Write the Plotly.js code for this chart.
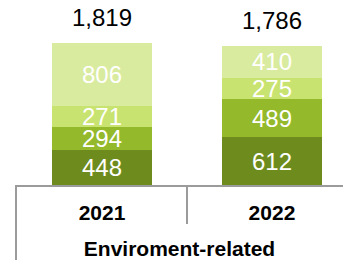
<!DOCTYPE html>
<html><head><meta charset="utf-8">
<script src="https://cdn.plot.ly/plotly-3.0.1.min.js"></script>
<style>html,body{margin:0;padding:0;background:#fff;overflow:hidden}#chart{width:343px;height:260px}</style>
</head><body><div id="chart"></div>
<script>
const categories = ["2021", "2022"];
const seriesNames = ["Segment 1", "Segment 2", "Segment 3", "Segment 4"];
const seg1 = [448, 612];
const seg2 = [294, 489];
const seg3 = [271, 275];
const seg4 = [806, 410];
const totals = [1819, 1786];
const groupLabel = "Enviroment-related";
const colors = ["#6e8c1e", "#94b92a", "#c8e36f", "#d9eb9f"];

const xs = categories.map((c, i) => i);
const series = [seg1, seg2, seg3, seg4];
const traces = series.map((vals, k) => ({
  type: "bar", x: xs, y: vals, name: seriesNames[k],
  marker: {color: colors[k], line: {width: 0}},
  width: 0.588,
  text: vals.map(v => v.toLocaleString("en-US")),
  textposition: "inside", insidetextanchor: "middle",
  textfont: {color: "#ffffff", size: 24, family: "Liberation Sans, Arial, sans-serif"},
  hoverinfo: "skip", cliponaxis: false
}));

const plotH = 260 - 29 - 75;
const annotations = totals.map((t, i) => ({
  x: i, y: t, xref: "x", yref: "y", text: t.toLocaleString("en-US"),
  showarrow: false, yanchor: "bottom", yshift: 10,
  font: {size: 24, color: "#000", family: "Liberation Sans, Arial, sans-serif"}
}));

const lineStyle = {color: "#9b9b9b", width: 2};
const shapes = [
  {type: "line", xref: "paper", yref: "paper", x0: 0, x1: 0, y0: 0, y1: -75 / plotH, line: lineStyle},
  {type: "line", xref: "x", yref: "paper", x0: 0.5, x1: 0.5, y0: 0, y1: -39 / plotH, line: lineStyle}
];

const layout = {
  width: 343, height: 260,
  margin: {l: 16, r: 0, t: 29, b: 75, pad: 0},
  paper_bgcolor: "#fff", plot_bgcolor: "#fff",
  barmode: "stack", bargap: 0, showlegend: false,
  font: {family: "Liberation Sans, Arial, sans-serif", color: "#000"},
  uniformtext: {mode: "show", minsize: 24},
  xaxis: {
    range: [-0.506, 1.418], tickvals: xs, ticktext: categories.map(c => "<b>" + c + "</b>"),
    tickfont: {size: 21, color: "#000"}, ticks: "", showgrid: false, zeroline: false,
    showline: true, linecolor: "#9b9b9b", linewidth: 2, ticklabelstandoff: 8,
    title: {text: "<b>" + groupLabel + "</b>", font: {size: 21, color: "#000"}, standoff: 18},
    fixedrange: true
  },
  yaxis: {range: [0, 2000], visible: false, showgrid: false, zeroline: false, fixedrange: true},
  annotations: annotations, shapes: shapes
};

Plotly.newPlot("chart", traces, layout, {staticPlot: true, displayModeBar: false});
</script></body></html>
